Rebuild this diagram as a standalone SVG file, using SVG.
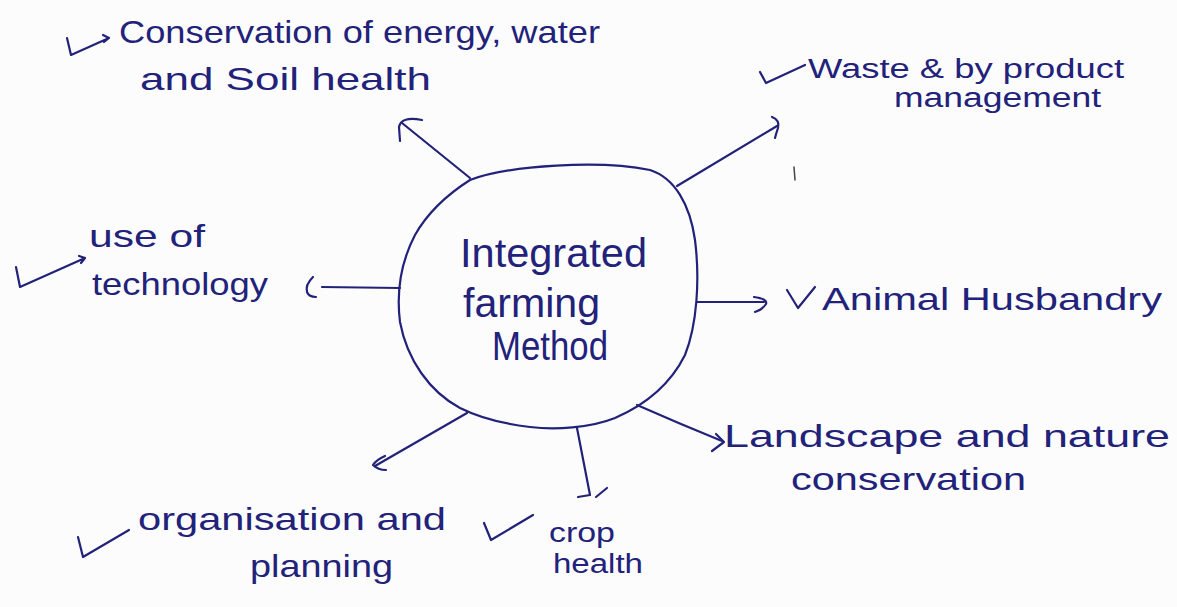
<svg xmlns="http://www.w3.org/2000/svg" width="1177" height="607" viewBox="0 0 1177 607">
<style>
.ink{fill:none;stroke:#22227a;stroke-width:2.2;stroke-linecap:round;stroke-linejoin:round}
.t{font-family:"Liberation Sans","DejaVu Sans",sans-serif;font-size:32px;fill:#22227a}
.s{font-size:27px}
.c{font-family:"Liberation Sans","DejaVu Sans",sans-serif;font-size:40px;fill:#22227a}
</style>
<rect width="1177" height="607" fill="#fcfcfc"/>
<g id="center">
<path class="ink" d="M 470,180 C 510,165 600,160 650,170 C 675,178 690,205 695,240 C 700,280 697,325 685,355 C 670,385 645,405 615,418 C 590,428 555,430 530,427 C 505,424 480,418 460,408 C 430,392 407,360 400,322 C 396,290 402,260 415,235 C 428,212 448,194 470,180 Z"/>
<text class="c" x="460" y="267" textLength="187" lengthAdjust="spacingAndGlyphs">Integrated</text>
<text class="c" x="463" y="317" textLength="137" lengthAdjust="spacingAndGlyphs">farming</text>
<text class="c" x="492" y="360" textLength="116" lengthAdjust="spacingAndGlyphs">Method</text>
</g>
<g id="connectors">
<path class="ink" d="M 470,178 L 402,123"/>
<path class="ink" d="M 422,120 Q 401,116 399,127 L 400,141"/>
<path class="ink" d="M 677,186 L 777,126"/>
<path class="ink" d="M 772,117 Q 780,120 778,128 Q 776,134 775,138"/>
<path class="ink" d="M 697,302 L 764,302"/>
<path class="ink" d="M 754,297 Q 768,299 766,304 Q 762,310 755,312"/>
<path class="ink" d="M 637,405 Q 680,424 722,441"/>
<path class="ink" d="M 712,451 L 724,442 L 716,434"/>
<path class="ink" d="M 577,428 L 590,495"/>
<path class="ink" d="M 578,497 L 590,495"/>
<path class="ink" d="M 596,497 L 607,488"/>
<path class="ink" d="M 467,413 Q 420,440 375,466"/>
<path class="ink" d="M 385,456 Q 376,460 373,465 Q 378,470 386,470"/>
<path class="ink" d="M 400,288 L 322,287"/>
<path class="ink" d="M 313,277 Q 305,285 307,292 Q 309,297 316,297"/>
<path class="ink" d="M 794,167 L 795,180" style="stroke:#444;stroke-width:1.5"/>
</g>
<g id="conservation">
<path class="ink" d="M 67,38 L 71,55 L 109,38 M 103,35 L 109,38 L 104,42"/>
<text class="t" x="119" y="43" textLength="481" lengthAdjust="spacingAndGlyphs">Conservation of energy, water</text>
<text class="t" x="140" y="90" textLength="291" lengthAdjust="spacingAndGlyphs">and Soil health</text>
</g>
<g id="waste">
<path class="ink" d="M 760,72 L 766,83 L 805,65"/>
<text class="t s" x="808" y="78" textLength="316" lengthAdjust="spacingAndGlyphs">Waste &amp; by product</text>
<text class="t s" x="894" y="107" textLength="207" lengthAdjust="spacingAndGlyphs">management</text>
</g>
<g id="technology">
<path class="ink" d="M 16,267 L 20,287 L 85,258 M 79,256 L 85,258 L 81,263"/>
<text class="t" x="89" y="247" textLength="116" lengthAdjust="spacingAndGlyphs">use of</text>
<text class="t" x="92" y="295" textLength="176" lengthAdjust="spacingAndGlyphs">technology</text>
</g>
<g id="animal">
<path class="ink" d="M 787,290 L 798,308 L 815,287"/>
<text class="t" x="822" y="310" textLength="340" lengthAdjust="spacingAndGlyphs">Animal Husbandry</text>
</g>
<g id="landscape">
<text class="t" x="724" y="447" textLength="446" lengthAdjust="spacingAndGlyphs">Landscape and nature</text>
<text class="t" x="791" y="490" textLength="235" lengthAdjust="spacingAndGlyphs">conservation</text>
</g>
<g id="organisation">
<path class="ink" d="M 78,537 L 83,557 L 129,530"/>
<text class="t" x="138" y="530" textLength="308" lengthAdjust="spacingAndGlyphs">organisation and</text>
<text class="t" x="250" y="577" textLength="143" lengthAdjust="spacingAndGlyphs">planning</text>
</g>
<g id="crop">
<path class="ink" d="M 484,523 L 491,540 L 533,515"/>
<text class="t s" x="549" y="542" textLength="66" lengthAdjust="spacingAndGlyphs">crop</text>
<text class="t s" x="553" y="573" textLength="90" lengthAdjust="spacingAndGlyphs">health</text>
</g>
</svg>
